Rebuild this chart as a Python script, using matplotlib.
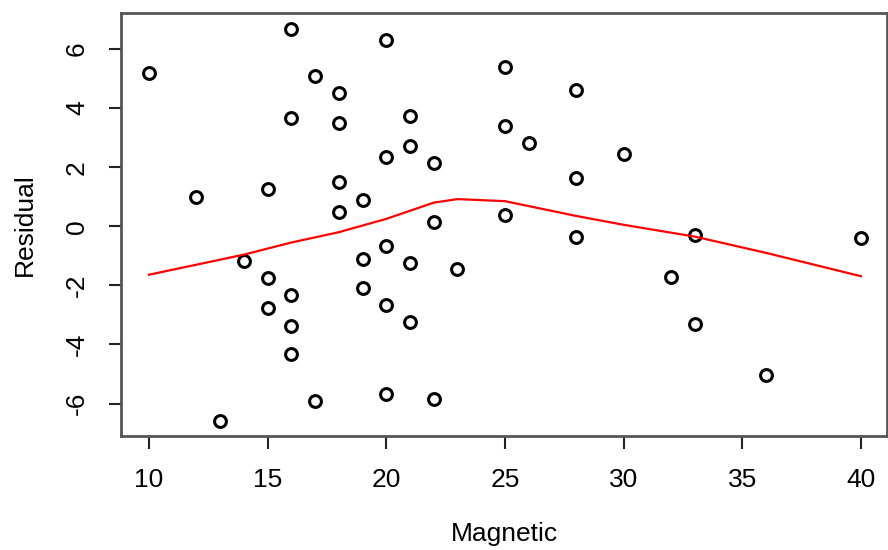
import numpy as np
import matplotlib
matplotlib.use('Agg')
import matplotlib.pyplot as plt

plt.rcParams['font.family'] = ['Liberation Sans', 'DejaVu Sans']
plt.rcParams['axes.unicode_minus'] = False

# residuals vs magnetic
magnetic = [10, 12, 13, 14, 15, 15, 15, 16, 16, 16, 16, 16, 17, 17,
            18, 18, 18, 18, 19, 19, 19, 20, 20, 20, 20, 20,
            21, 21, 21, 21, 22, 22, 22, 23, 25, 25, 25, 26,
            28, 28, 28, 30, 32, 33, 33, 36, 40]
residual = [5.19, 1.0, -6.6, -1.17, 1.25, -1.76, -2.75, 6.68, 3.66, -2.34, -3.36, -4.34, 5.08, -5.93,
            4.5, 3.49, 1.49, 0.47, 0.9, -1.12, -2.1, 6.3, 2.34, -0.68, -2.68, -5.69,
            3.73, 2.71, -1.25, -3.25, 2.14, 0.14, -5.86, -1.46, 5.39, 3.39, 0.37, 2.81,
            4.61, 1.63, -0.37, 2.44, -1.73, -0.31, -3.32, -5.05, -0.41]

# smooth curve
smooth_x = [10, 14, 16, 18, 20, 22, 23, 25, 28, 30, 33, 36, 40]
smooth_y = [-1.64, -0.96, -0.55, -0.2, 0.25, 0.8, 0.92, 0.85, 0.35, 0.05, -0.35, -0.9, -1.69]

fig = plt.figure(figsize=(8.88, 5.5), dpi=100)
ax = fig.add_axes([121/888, 1-436/550, 766/888, 423/550])

ax.plot(magnetic, residual, 'o', mfc='none', mec='black', ms=8.5, mew=2.2)
ax.plot(smooth_x, smooth_y, color='red', lw=1.6)

ax.set_xlim(8.82, 41.1)
ax.set_ylim(-7.1, 7.22)
ax.set_xticks([10, 15, 20, 25, 30, 35, 40])
ax.set_yticks([-6, -4, -2, 0, 2, 4, 6])
ax.tick_params(direction='out', length=9, width=1.5, labelsize=19, color='#222222')
ax.tick_params(axis='x', pad=14)
ax.tick_params(axis='y', pad=14)
for lab in ax.get_yticklabels():
    lab.set_rotation(90)
    lab.set_va('center')
for s in ax.spines.values():
    s.set_linewidth(2)
    s.set_color('#555555')

ax.set_xlabel('Magnetic', fontsize=19, labelpad=22)
ax.set_ylabel('Residual', fontsize=19, labelpad=20)

plt.savefig('out.png', dpi=100)
